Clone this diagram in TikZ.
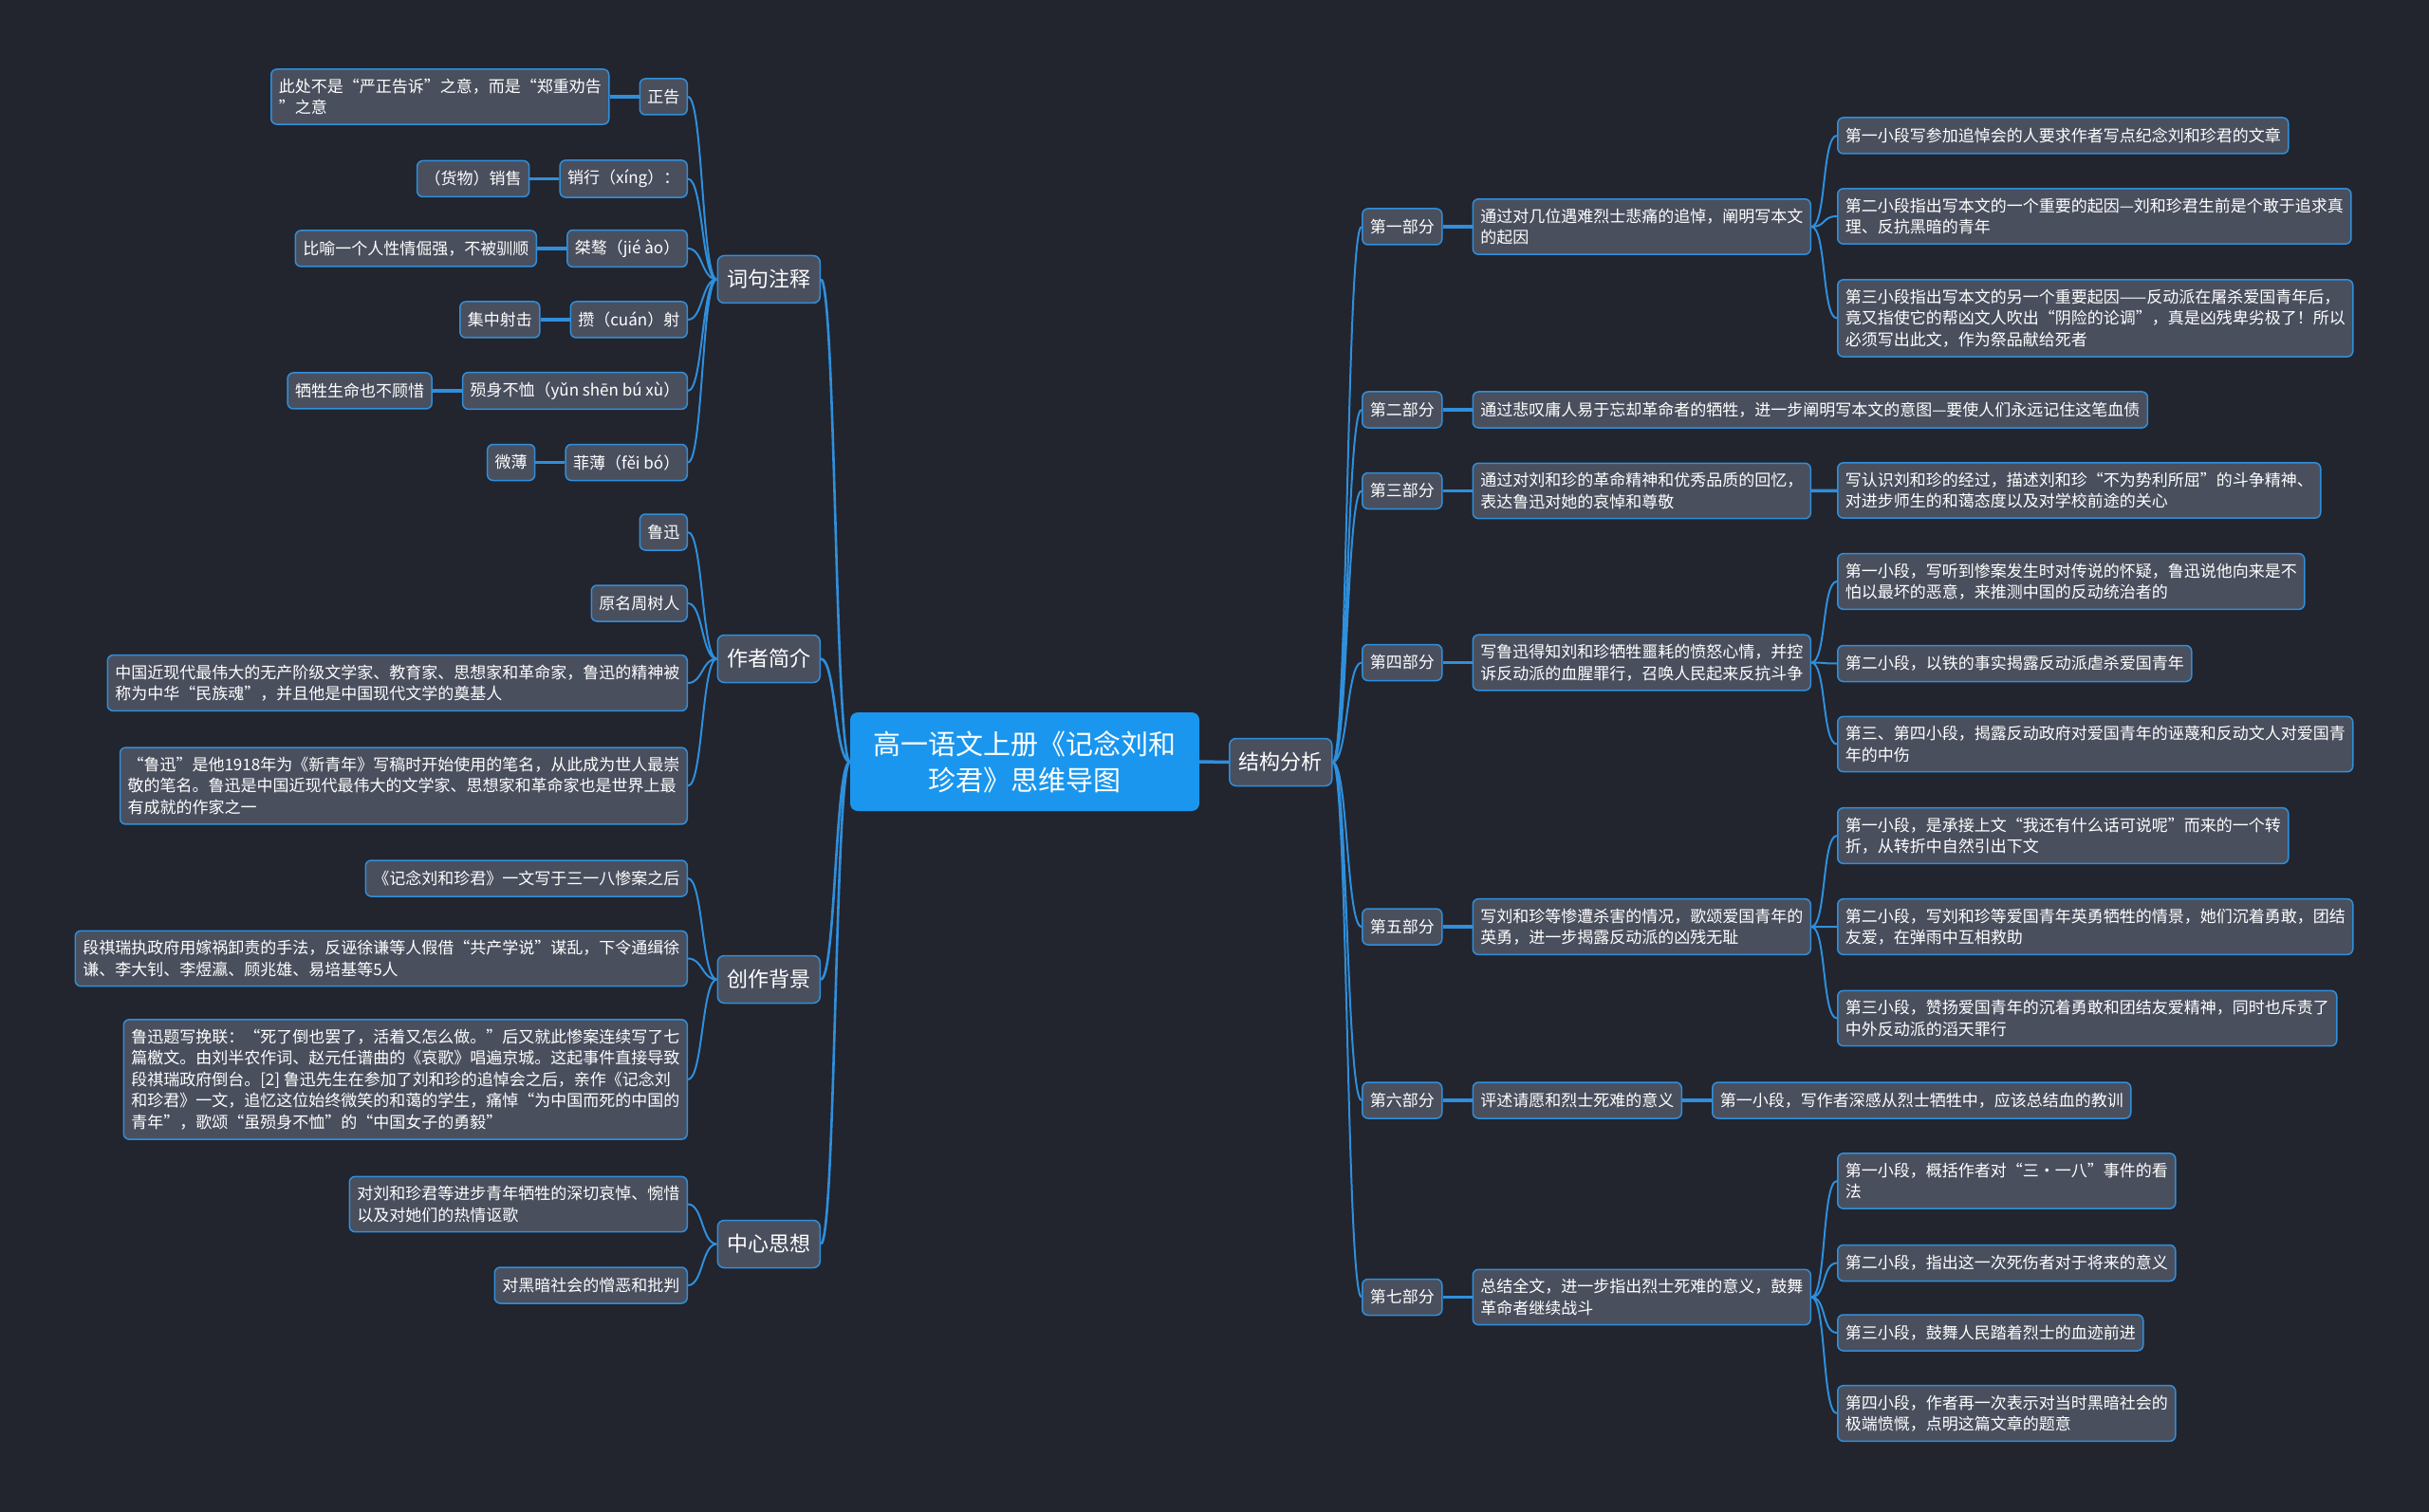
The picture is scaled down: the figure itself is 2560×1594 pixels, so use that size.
\documentclass[tikz,border=0pt]{standalone}
\usepackage{fontspec}
\newfontfamily\cjk{Noto Sans CJK SC}
\usetikzlibrary{positioning}
\definecolor{bgcol}{HTML}{22242E}
\definecolor{boxfill}{HTML}{4A4F5E}
\definecolor{boxline}{HTML}{2F8FDB}
\definecolor{rootfill}{HTML}{1A96EE}

\begin{document}
\begin{tikzpicture}[
  x=1pt, y=-1pt,
  leaf/.style={draw=boxline, fill=boxfill, line width=1.5pt, rounded corners=6pt, text=white, align=left, inner xsep=8pt, inner ysep=10pt, minimum height=38pt, font=\cjk\fontsize{17}{22.5}\selectfont},
  topic/.style={draw=boxline, fill=boxfill, line width=1.5pt, rounded corners=7pt, text=white, inner xsep=10pt, minimum height=50pt, font=\cjk\fontsize{22}{28}\selectfont},
  rootbox/.style={fill=rootfill, rounded corners=8pt, text=white, align=center, minimum width=368pt, minimum height=104pt, font=\cjk\fontsize{29}{38}\selectfont},
  branch/.style={draw=boxline, line width=2pt},
  trunk/.style={draw=boxline, line width=2.6pt},
  stub/.style={draw=boxline, line width=3.5pt}
]
\fill[bgcol] (0,0) rectangle (2560,1594);
\useasboundingbox (0,0) rectangle (2560,1594);

\node[rootbox] (main) at (1080,803) {高一语文上册《记念刘和\\珍君》思维导图};

% left half
\node[topic, anchor=east] (cjzs) at (865,294.5) {词句注释};
\node[topic, anchor=east] (zzjj) at (865,694.5) {作者简介};
\node[topic, anchor=east] (czbj) at (865,1032.5) {创作背景};
\node[topic, anchor=east] (zxsx) at (865,1311.5) {中心思想};

\node[leaf, anchor=east] (zg) at (725,102) {正告};
\node[leaf, left=31pt of zg] (zgx) {此处不是“严正告诉”之意，而是“郑重劝告\\”之意};
\node[leaf, anchor=east] (xx) at (725,188.5) {销行（xíng）：};
\node[leaf, left=31pt of xx] (xxx) {（货物）销售};
\node[leaf, anchor=east] (ja) at (725,262) {桀骜（jié ào）};
\node[leaf, left=31pt of ja] (jax) {比喻一个人性情倔强，不被驯顺};
\node[leaf, anchor=east] (cs) at (725,337) {攒（cuán）射};
\node[leaf, left=31pt of cs] (csx) {集中射击};
\node[leaf, anchor=east] (ys) at (725,412) {殒身不恤（yǔn shēn bú xù）};
\node[leaf, left=31pt of ys] (ysx) {牺牲生命也不顾惜};
\node[leaf, anchor=east] (fb) at (725,487.5) {菲薄（fěi bó）};
\node[leaf, left=31pt of fb] (fbx) {微薄};

\node[leaf, anchor=east] (lx) at (725,561) {鲁迅};
\node[leaf, anchor=east] (ymz) at (725,636) {原名周树人};
\node[leaf, anchor=east] (jj1) at (725,720) {中国近现代最伟大的无产阶级文学家、教育家、思想家和革命家，鲁迅的精神被\\称为中华“民族魂”，并且他是中国现代文学的奠基人};
\node[leaf, anchor=east] (jj2) at (725,828.5) {“鲁迅”是他1918年为《新青年》写稿时开始使用的笔名，从此成为世人最崇\\敬的笔名。鲁迅是中国近现代最伟大的文学家、思想家和革命家也是世界上最\\有成就的作家之一};

\node[leaf, anchor=east] (bj1) at (725,926) {《记念刘和珍君》一文写于三一八惨案之后};
\node[leaf, anchor=east] (bj2) at (725,1010.5) {段祺瑞执政府用嫁祸卸责的手法，反诬徐谦等人假借“共产学说”谋乱，下令通缉徐\\谦、李大钊、李煜瀛、顾兆雄、易培基等5人};
\node[leaf, anchor=east] (bj3) at (725,1138) {鲁迅题写挽联：“死了倒也罢了，活着又怎么做。”后又就此惨案连续写了七\\篇檄文。由刘半农作词、赵元任谱曲的《哀歌》唱遍京城。这起事件直接导致\\段祺瑞政府倒台。[2] 鲁迅先生在参加了刘和珍的追悼会之后，亲作《记念刘\\和珍君》一文，追忆这位始终微笑的和蔼的学生，痛悼“为中国而死的中国的\\青年”，歌颂“虽殒身不恤”的“中国女子的勇毅”};

\node[leaf, anchor=east] (sx1) at (725,1269.5) {对刘和珍君等进步青年牺牲的深切哀悼、惋惜\\以及对她们的热情讴歌};
\node[leaf, anchor=east] (sx2) at (725,1355) {对黑暗社会的憎恶和批判};

% right half
\node[topic, anchor=west] (jgfx) at (1295,803.5) {结构分析};

\node[leaf, anchor=west] (p1) at (1435,239) {第一部分};
\node[leaf, anchor=west] (p2) at (1435,432) {第二部分};
\node[leaf, anchor=west] (p3) at (1435,517.5) {第三部分};
\node[leaf, anchor=west] (p4) at (1435,698.5) {第四部分};
\node[leaf, anchor=west] (p5) at (1435,977) {第五部分};
\node[leaf, anchor=west] (p6) at (1435,1160) {第六部分};
\node[leaf, anchor=west] (p7) at (1435,1367.5) {第七部分};

\node[leaf, right=31pt of p1] (d1) {通过对几位遇难烈士悲痛的追悼，阐明写本文\\的起因};
\node[leaf, right=31pt of p2] (d2) {通过悲叹庸人易于忘却革命者的牺牲，进一步阐明写本文的意图—要使人们永远记住这笔血债};
\node[leaf, right=31pt of p3] (d3) {通过对刘和珍的革命精神和优秀品质的回忆，\\表达鲁迅对她的哀悼和尊敬};
\node[leaf, right=31pt of p4] (d4) {写鲁迅得知刘和珍牺牲噩耗的愤怒心情，并控\\诉反动派的血腥罪行，召唤人民起来反抗斗争};
\node[leaf, right=31pt of p5] (d5) {写刘和珍等惨遭杀害的情况，歌颂爱国青年的\\英勇，进一步揭露反动派的凶残无耻};
\node[leaf, right=31pt of p6] (d6) {评述请愿和烈士死难的意义};
\node[leaf, right=31pt of p7] (d7) {总结全文，进一步指出烈士死难的意义，鼓舞\\革命者继续战斗};

\node[leaf, anchor=west] (p1a) at (1936,143) {第一小段写参加追悼会的人要求作者写点纪念刘和珍君的文章};
\node[leaf, anchor=west] (p1b) at (1936,228) {第二小段指出写本文的一个重要的起因—刘和珍君生前是个敢于追求真\\理、反抗黑暗的青年};
\node[leaf, anchor=west] (p1c) at (1936,335.5) {第三小段指出写本文的另一个重要起因——反动派在屠杀爱国青年后，\\竟又指使它的帮凶文人吹出“阴险的论调”，真是凶残卑劣极了！所以\\必须写出此文，作为祭品献给死者};
\node[leaf, anchor=west] (p3a) at (1936,517) {写认识刘和珍的经过，描述刘和珍“不为势利所屈”的斗争精神、\\对进步师生的和蔼态度以及对学校前途的关心};
\node[leaf, anchor=west] (p4a) at (1936,613) {第一小段，写听到惨案发生时对传说的怀疑，鲁迅说他向来是不\\怕以最坏的恶意，来推测中国的反动统治者的};
\node[leaf, anchor=west] (p4b) at (1936,699.5) {第二小段，以铁的事实揭露反动派虐杀爱国青年};
\node[leaf, anchor=west] (p4c) at (1936,784.5) {第三、第四小段，揭露反动政府对爱国青年的诬蔑和反动文人对爱国青\\年的中伤};
\node[leaf, anchor=west] (p5a) at (1936,881) {第一小段，是承接上文“我还有什么话可说呢”而来的一个转\\折，从转折中自然引出下文};
\node[leaf, anchor=west] (p5b) at (1936,977) {第二小段，写刘和珍等爱国青年英勇牺牲的情景，她们沉着勇敢，团结\\友爱，在弹雨中互相救助};
\node[leaf, anchor=west] (p5c) at (1936,1073.5) {第三小段，赞扬爱国青年的沉着勇敢和团结友爱精神，同时也斥责了\\中外反动派的滔天罪行};
\node[leaf, right=31pt of d6] (p6a) {第一小段，写作者深感从烈士牺牲中，应该总结血的教训};
\node[leaf, anchor=west] (p7a) at (1936,1245) {第一小段，概括作者对“三·一八”事件的看\\法};
\node[leaf, anchor=west] (p7b) at (1936,1331.5) {第二小段，指出这一次死伤者对于将来的意义};
\node[leaf, anchor=west] (p7c) at (1936,1405) {第三小段，鼓舞人民踏着烈士的血迹前进};
\node[leaf, anchor=west] (p7d) at (1936,1490) {第四小段，作者再一次表示对当时黑暗社会的\\极端愤慨，点明这篇文章的题意};

% connectors
\draw[trunk] (main.west) .. controls +(-16,0) and +(16,0) .. (cjzs.east)
  (main.west) .. controls +(-16,0) and +(16,0) .. (zzjj.east)
  (main.west) .. controls +(-16,0) and +(16,0) .. (czbj.east)
  (main.west) .. controls +(-16,0) and +(16,0) .. (zxsx.east);
\draw[stub] (main.east) -- (jgfx.west);

\draw[branch] (cjzs.west) .. controls +(-16,0) and +(16,0) .. (zg.east)
  (cjzs.west) .. controls +(-16,0) and +(16,0) .. (xx.east)
  (cjzs.west) .. controls +(-16,0) and +(16,0) .. (ja.east)
  (cjzs.west) .. controls +(-16,0) and +(16,0) .. (cs.east)
  (cjzs.west) .. controls +(-16,0) and +(16,0) .. (ys.east)
  (cjzs.west) .. controls +(-16,0) and +(16,0) .. (fb.east);
\draw[stub] (zg) -- (zgx) (xx) -- (xxx) (ja) -- (jax) (cs) -- (csx) (ys) -- (ysx) (fb) -- (fbx);

\draw[branch] (zzjj.west) .. controls +(-16,0) and +(16,0) .. (lx.east)
  (zzjj.west) .. controls +(-16,0) and +(16,0) .. (ymz.east)
  (zzjj.west) .. controls +(-16,0) and +(16,0) .. (jj1.east)
  (zzjj.west) .. controls +(-16,0) and +(16,0) .. (jj2.east);
\draw[branch] (czbj.west) .. controls +(-16,0) and +(16,0) .. (bj1.east)
  (czbj.west) .. controls +(-16,0) and +(16,0) .. (bj2.east)
  (czbj.west) .. controls +(-16,0) and +(16,0) .. (bj3.east);
\draw[branch] (zxsx.west) .. controls +(-16,0) and +(16,0) .. (sx1.east)
  (zxsx.west) .. controls +(-16,0) and +(16,0) .. (sx2.east);

\draw[branch] (jgfx.east) .. controls +(16,0) and +(-16,0) .. (p1.west)
  (jgfx.east) .. controls +(16,0) and +(-16,0) .. (p2.west)
  (jgfx.east) .. controls +(16,0) and +(-16,0) .. (p3.west)
  (jgfx.east) .. controls +(16,0) and +(-16,0) .. (p4.west)
  (jgfx.east) .. controls +(16,0) and +(-16,0) .. (p5.west)
  (jgfx.east) .. controls +(16,0) and +(-16,0) .. (p6.west)
  (jgfx.east) .. controls +(16,0) and +(-16,0) .. (p7.west);
\draw[stub] (p1) -- (d1) (p2) -- (d2) (p3) -- (d3) (p4) -- (d4) (p5) -- (d5) (p6) -- (d6) (p7) -- (d7) (d6) -- (p6a);

\draw[branch] (d1.east) .. controls +(16,0) and +(-16,0) .. (p1a.west)
  (d1.east) .. controls +(16,0) and +(-16,0) .. (p1b.west)
  (d1.east) .. controls +(16,0) and +(-16,0) .. (p1c.west);
\draw[stub] (d3) -- (p3a);
\draw[branch] (d4.east) .. controls +(16,0) and +(-16,0) .. (p4a.west)
  (d4.east) .. controls +(16,0) and +(-16,0) .. (p4b.west)
  (d4.east) .. controls +(16,0) and +(-16,0) .. (p4c.west);
\draw[branch] (d5.east) .. controls +(16,0) and +(-16,0) .. (p5a.west)
  (d5.east) .. controls +(16,0) and +(-16,0) .. (p5b.west)
  (d5.east) .. controls +(16,0) and +(-16,0) .. (p5c.west);
\draw[branch] (d7.east) .. controls +(16,0) and +(-16,0) .. (p7a.west)
  (d7.east) .. controls +(16,0) and +(-16,0) .. (p7b.west)
  (d7.east) .. controls +(16,0) and +(-16,0) .. (p7c.west)
  (d7.east) .. controls +(16,0) and +(-16,0) .. (p7d.west);
\end{tikzpicture}
\end{document}
